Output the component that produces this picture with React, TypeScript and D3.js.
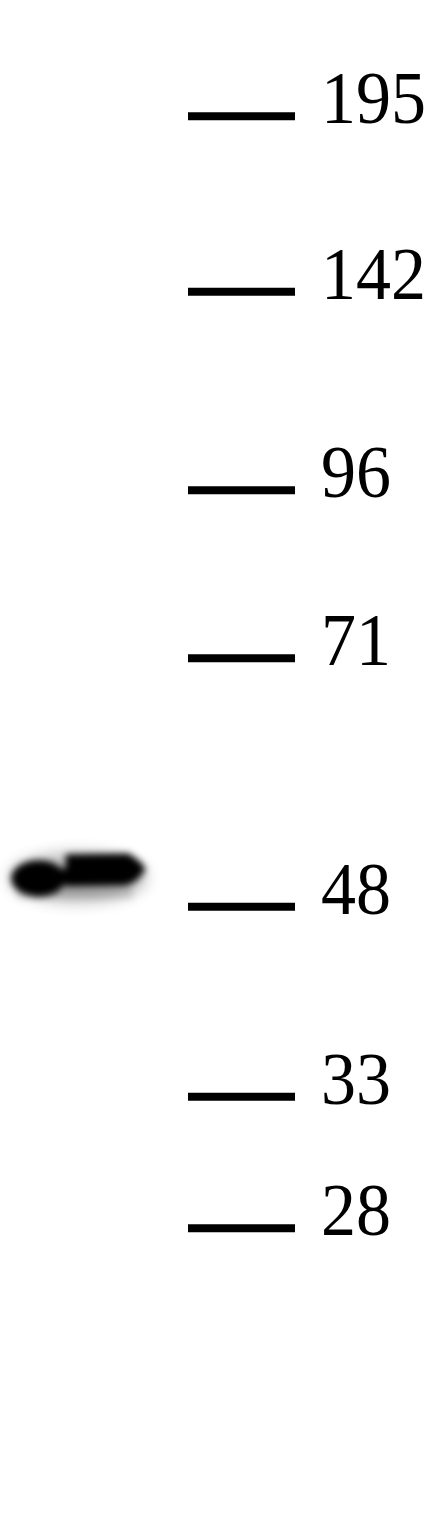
import React, { useEffect } from "react";
import * as d3 from "d3";

// Molecular weight markers (kDa) and their relative mobility (Rf) read from the blot
const markerLabels = ["195", "142", "96", "71", "48", "33", "28"];
const markerRf = [0.0765, 0.192, 0.3225, 0.433, 0.5965, 0.7215, 0.808];

// Sample lanes and detected band
const lanes = ["1"];
const bandLane = ["1"];
const bandRf = [0.574];
const bandIntensity = [1];

const W = 441;
const H = 1520;

export default function App() {
  useEffect(() => {
    document.body.style.margin = "0";
  }, []);

  const y = d3.scaleLinear().domain([0, 1]).range([0, H]);
  const laneX = d3.scaleBand<string>().domain(lanes).range([10, 146]).padding(0);
  const markerX = d3.scaleLinear().domain([0, 1]).range([188, 295]);

  const bands = bandLane.map((l, i) => ({ lane: l, rf: bandRf[i], intensity: bandIntensity[i] }));

  return (
    <svg width={W} height={H} viewBox={`0 0 ${W} ${H}`} style={{ display: "block", background: "#fff" }}>
      <defs>
        <filter id="blur" x="-30%" y="-100%" width="160%" height="300%">
          <feGaussianBlur stdDeviation="3.5" />
        </filter>
        <filter id="halo" x="-30%" y="-100%" width="160%" height="300%">
          <feGaussianBlur stdDeviation="8" />
        </filter>
        <filter id="soft" x="-5%" y="-100%" width="110%" height="300%">
          <feGaussianBlur stdDeviation="0.7" />
        </filter>
      </defs>
      <rect width={W} height={H} fill="#fff" />
      {bands.map((b, i) => {
        const x0 = laneX(b.lane) ?? 0;
        const w = laneX.bandwidth();
        const cy = y(b.rf);
        const k = b.intensity;
        return (
          <g key={i}>
            <g filter="url(#halo)" opacity={0.3 * k}>
              <ellipse cx={x0 + w * 0.5} cy={cy + 5} rx={w * 0.5} ry={24} fill="#000" />
            </g>
            <g filter="url(#blur)" fill="#000" opacity={k}>
              <ellipse cx={x0 + w * 0.21} cy={cy + 6} rx={w * 0.2} ry={18} />
              <path
                d={`M ${x0 + w * 0.3} ${cy - 3} L ${x0 + w * 0.44} ${cy - 4} L ${x0 + w * 0.44} ${cy + 12} L ${x0 + w * 0.3} ${cy + 14} Z`}
              />
              <path
                d={`M ${x0 + w * 0.41} ${cy - 18} L ${x0 + w * 0.87} ${cy - 19} Q ${x0 + w * 0.98} ${cy - 10} ${x0 + w * 0.995} ${cy - 3} Q ${x0 + w * 0.94} ${cy + 10} ${x0 + w * 0.85} ${cy + 13} L ${x0 + w * 0.41} ${cy + 14} Z`}
              />
            </g>
            <g filter="url(#blur)" fill="#000" opacity={0.12 * k}>
              <rect x={x0 + w * 0.05} y={cy + 14} width={w * 0.85} height={12} />
            </g>
          </g>
        );
      })}
      <g filter="url(#soft)">
        {markerRf.map((rf, i) => (
          <line
            key={i}
            x1={markerX(0)}
            x2={markerX(1)}
            y1={y(rf)}
            y2={y(rf)}
            stroke="#000"
            strokeWidth={8}
          />
        ))}
      </g>
      {markerLabels.map((lab, i) => (
        <text
          key={lab}
          transform={`translate(321, ${y(markerRf[i]) + 7}) scale(1, 1.06)`}
          fontFamily="'Liberation Serif', 'Times New Roman', serif"
          fontSize={70}
          fill="#000"
        >
          {lab}
        </text>
      ))}
    </svg>
  );
}
